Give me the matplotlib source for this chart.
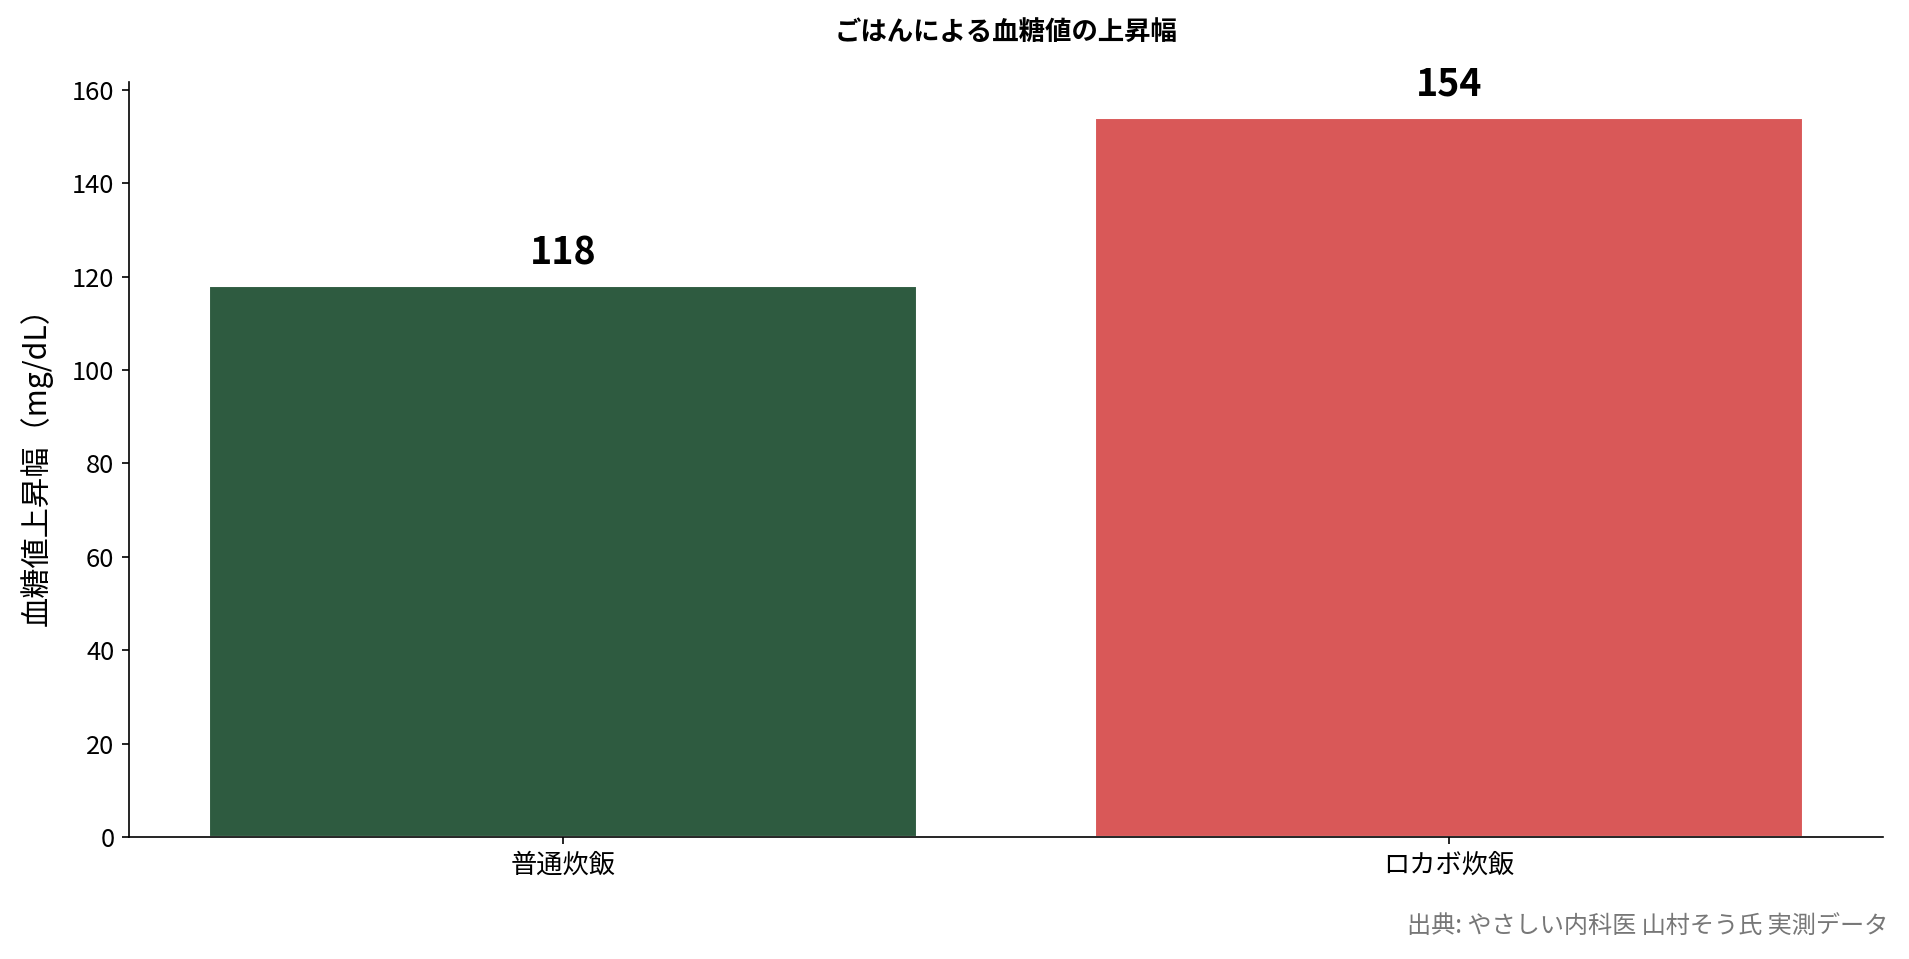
import matplotlib
matplotlib.use('Agg')
import matplotlib.pyplot as plt

plt.rcParams['font.family'] = ['Noto Sans CJK JP', 'DejaVu Sans']

categories = ['普通炊飯', 'ロカボ炊飯']
values = [118, 154]
colors = ['#2e5b40', '#d95858']
title = 'ごはんによる血糖値の上昇幅'
ylabel = '血糖値上昇幅（mg/dL）'
source = '出典: やさしい内科医 山村そう氏 実測データ'

W, H = 1910, 959
fig = plt.figure(figsize=(W / 150, H / 150), dpi=150)
ax = fig.add_axes([129 / W, (H - 837) / H, (1883 - 129) / W, (837 - 82) / H])

bars = ax.bar(categories, values, width=0.8, color=colors, edgecolor='white', linewidth=1)

for b, v in zip(bars, values):
    ax.text(b.get_x() + b.get_width() / 2, v + 3, str(v), ha='center', va='bottom',
            fontsize=18, fontweight='bold')

ax.spines['top'].set_visible(False)
ax.spines['right'].set_visible(False)
ax.tick_params(axis='y', labelsize=12.3)
ax.tick_params(axis='x', labelsize=12.6)
ax.set_ylabel(ylabel, fontsize=14.5, labelpad=9)

fig.text(0.5 * (129 + 1883) / W, 1 - 32 / H, title, ha='center', va='center',
         fontsize=12.7, fontweight='bold')
fig.text(1888 / W, 1 - 927 / H, source, ha='right', va='center', fontsize=11.6, color='#777777')

fig.savefig('out.png', dpi=150)
